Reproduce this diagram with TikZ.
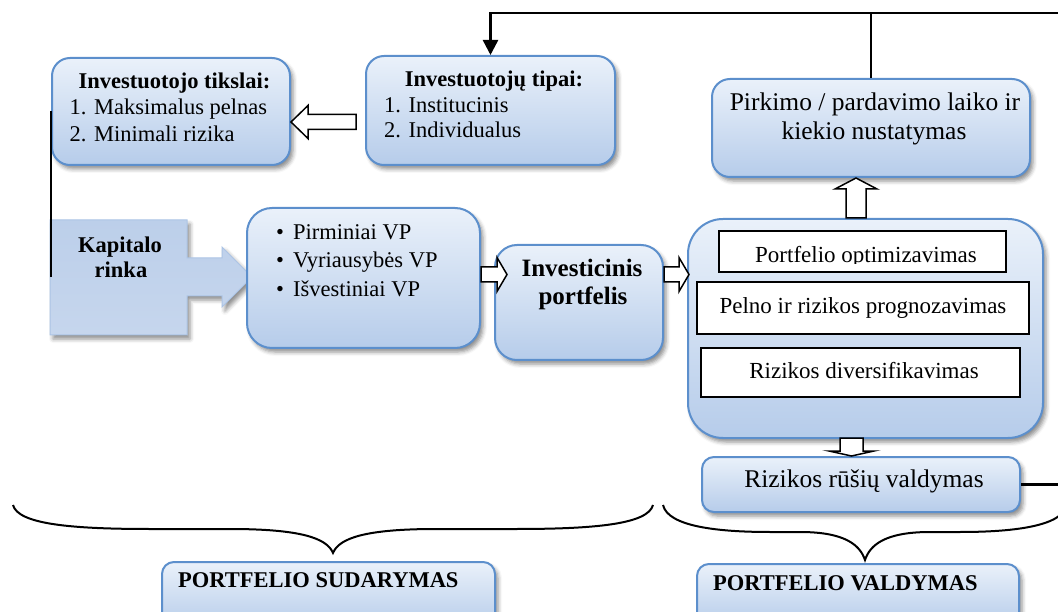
\documentclass[tikz,border=0pt]{standalone}
\usepackage{fontspec}
\setmainfont{Liberation Serif}
\usetikzlibrary{calc,shadows.blur,arrows.meta}

\definecolor{boxtop}{RGB}{234,241,250}
\definecolor{boxbot}{RGB}{182,204,234}
\definecolor{boxline}{RGB}{92,143,204}
\definecolor{kaptop}{RGB}{188,207,234}
\definecolor{kapmid}{RGB}{224,233,245}
\definecolor{kapbot}{RGB}{198,214,237}
\definecolor{kapline}{RGB}{172,196,229}

\tikzset{
  softshadow/.style={blur shadow={shadow xshift=3pt, shadow yshift=-4pt,
      shadow blur radius=4pt, shadow opacity=45}},
  box/.style={draw=boxline, line width=2pt, top color=boxtop, bottom color=boxbot,
      inner sep=0pt, softshadow},
  whitebox/.style={draw=black, line width=2pt, fill=white, inner sep=0pt},
  hollow/.style={draw=black, fill=white, line width=1.5pt, line join=miter},
  conn/.style={draw=black, line width=2.5pt},
  bracestyle/.style={draw=black, line width=2pt},
  reg/.style={inner sep=0pt, font=\fontsize{22.5}{28}\selectfont},
  bold/.style={inner sep=0pt, font=\fontsize{22.5}{28}\selectfont\bfseries},
  boldbig/.style={inner sep=0pt, font=\fontsize{25}{30}\selectfont\bfseries},
  big/.style={inner sep=0pt, font=\fontsize{25.5}{30}\selectfont},
  mid/.style={inner sep=0pt, font=\fontsize{23}{28}\selectfont},
}

% horizontal block arrow: tail, tip, body half width, head half width, head length
\newcommand\hollowh[5]{%
  \draw[hollow] let \p1=(#1), \p2=(#2), \n1={sign(\x2-\x1)} in
    ({\x1},{\y1+#3}) -- ({\x2-\n1*#5},{\y1+#3}) -- ({\x2-\n1*#5},{\y1+#4})
    -- ({\x2},{\y1}) -- ({\x2-\n1*#5},{\y1-#4}) -- ({\x2-\n1*#5},{\y1-#3})
    -- ({\x1},{\y1-#3}) -- cycle;}
% vertical block arrow: tail, tip, body half width, head half width, head length
\newcommand\hollowv[5]{%
  \draw[hollow] let \p1=(#1), \p2=(#2), \n1={sign(\y2-\y1)} in
    ({\x1+#3},{\y1}) -- ({\x1+#3},{\y2-\n1*#5}) -- ({\x1+#4},{\y2-\n1*#5})
    -- ({\x1},{\y2}) -- ({\x1-#4},{\y2-\n1*#5}) -- ({\x1-#3},{\y2-\n1*#5})
    -- ({\x1-#3},{\y1}) -- cycle;}

\begin{document}
\begin{tikzpicture}[x=1pt, y=-1pt]
\useasboundingbox (0,0) rectangle (1058,612);
\clip (0,0) rectangle (1058,612);

% ---------- capital market callout ----------
\path[draw=kapline, line width=1pt, top color=kaptop, middle color=kapmid,
      bottom color=kapbot, softshadow]
  (50,220) -- (187,220) -- (187,258) -- (222,258) -- (222,247) -- (252,277)
  -- (222,307) -- (222,296) -- (187,296) -- (187,335) -- (50,335) -- cycle;
\coordinate (kapw) at (50,277.5);
\node[bold, anchor=base] (kap1) at (120,253) {Kapitalo};
\node[bold, anchor=base] (kap2) at (121,278) {rinka};

% ---------- blue boxes ----------
\node[box, rounded corners=18pt, minimum width=238pt, minimum height=107pt] (tikslai) at (171,111.5) {};
\node[box, rounded corners=18pt, minimum width=249pt, minimum height=109pt] (tipai) at (490.5,110.5) {};
\node[box, rounded corners=25pt, minimum width=233pt, minimum height=140pt] (vp) at (363.5,278) {};
\node[box, rounded corners=22pt, minimum width=168pt, minimum height=115pt] (inv) at (579,302.5) {};
\node[box, rounded corners=18pt, minimum width=318pt, minimum height=98pt] (pirk) at (871,128) {};
\node[box, rounded corners=35pt, minimum width=355pt, minimum height=219pt] (big) at (865.5,328.5) {};
\node[box, rounded corners=12pt, minimum width=318pt, minimum height=55pt] (rr) at (861,484.5) {};
\node[box, rounded corners=12pt, minimum width=333pt, minimum height=66pt] (sud) at (328.5,595) {};
\node[box, rounded corners=12pt, minimum width=322pt, minimum height=62pt] (val) at (858,595) {};

% ---------- white boxes inside the management block ----------
\node[whitebox, minimum width=287pt, minimum height=41pt] (opt) at (862.5,251.5) {};
\begin{scope}
  \clip (opt.north west) rectangle ($(opt.south east)+(0,-9)$);
  \node[mid, anchor=base] (optt) at (866,263) {Portfelio optimizavimas};
\end{scope}
\node[whitebox, minimum width=332pt, minimum height=52pt] (pel) at (863,308) {};
\node[mid, anchor=base] (pelt) at (863,314) {Pelno ir rizikos prognozavimas};
\node[whitebox, minimum width=319pt, minimum height=49pt] (div) at (860.5,372.5) {};
\node[mid, anchor=base] (divt) at (864,379) {Rizikos diversifikavimas};

% ---------- texts ----------
\node[bold, anchor=base] (tikslait) at (174.5,89) {Investuotojo tikslai:};
\node[reg, anchor=base west] (tik1) at (69.5,115) {1. Maksimalus pelnas};
\node[reg, anchor=base west] (tik2) at (69.5,142) {2. Minimali rizika};

\node[bold, anchor=base] (tipait) at (494,87) {Investuotojų tipai:};
\node[reg, anchor=base west] (tip1) at (384,113) {1. Institucinis};
\node[reg, anchor=base west] (tip2) at (384,138) {2. Individualus};

\node[reg, anchor=base west] (b1) at (276,240) {•};
\node[reg, anchor=base west] (b2) at (276,268) {•};
\node[reg, anchor=base west] (b3) at (276,297) {•};
\node[reg, anchor=base west] (vp1) at (293,240) {Pirminiai VP};
\node[reg, anchor=base west] (vp2) at (293,268) {Vyriausybės VP};
\node[reg, anchor=base west] (vp3) at (293,297) {Išvestiniai VP};

\node[boldbig, anchor=base] (inv1) at (582,277) {Investicinis};
\node[boldbig, anchor=base] (inv2) at (583,305) {portfelis};

\node[big, anchor=base] (pirk1) at (875,111) {Pirkimo / pardavimo laiko ir};
\node[big, anchor=base] (pirk2) at (874,140) {kiekio nustatymas};

\node[big, anchor=base] (rrt) at (864,487) {Rizikos rūšių valdymas};

\node[bold, anchor=base west] (sudt) at (178,587) {PORTFELIO SUDARYMAS};
\node[bold, anchor=base west] (valt) at (713,590) {PORTFELIO VALDYMAS};

% ---------- block arrows ----------
\hollowh{$(tipai.west)+(-9,11.5)$}{$(tikslai.east)+(0,10.5)$}{7.5pt}{16.5pt}{17pt}
\hollowh{$(vp.east)+(0,-3.5)$}{$(inv.west)+(13,0)$}{7.5pt}{17pt}{10pt}
\hollowh{$(inv.east)+(0,-28)$}{$(big.west)+(2,0)$}{7.5pt}{17pt}{10pt}
\hollowv{$(big.north)+(-9.5,0)$}{pirk.south}{10pt}{21pt}{11pt}
\hollowv{$(big.south)+(-14,-1)$}{rr.north}{11.5pt}{22.5pt}{5pt}

% ---------- connector lines ----------
\coordinate (loopT) at (1075,13);
\draw[conn, -{Triangle[length=15pt,width=15pt]}] (rr.east) -| (loopT) -| (tipai.north);
\draw[conn] (pirk.north) -- (pirk.north |- loopT);
\draw[draw=black, line width=2pt] (tikslai.west) -- (tikslai.west |- kapw);

% ---------- braces ----------
\draw[bracestyle] (13,505) .. controls (18,524) and (70,529) .. (150,529) -- (230,529)
  .. controls (300,529) and (327,538) .. (333,553)
  .. controls (339,538) and (366,529) .. (436,529) -- (516,529)
  .. controls (596,529) and (648,524) .. (653,505);
\draw[bracestyle] (663,505) .. controls (668,527) and (720,532) .. (770,532) -- (800,532)
  .. controls (845,532) and (860,545) .. (865,560)
  .. controls (870,545) and (885,532) .. (930,532) -- (960,532)
  .. controls (1010,532) and (1062,527) .. (1067,505);
\end{tikzpicture}
\end{document}
